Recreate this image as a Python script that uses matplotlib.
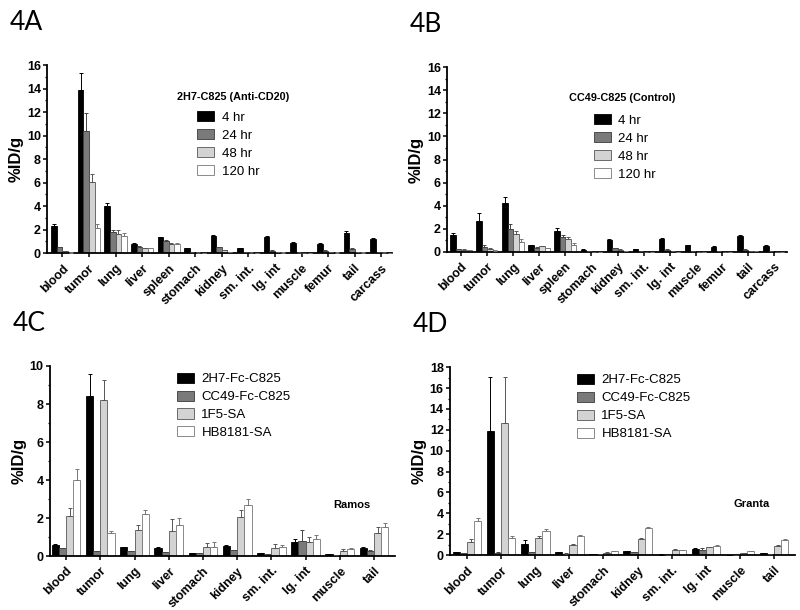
import numpy as np
import matplotlib
matplotlib.use("Agg")
from matplotlib import pyplot as plt
from matplotlib.ticker import MultipleLocator

plt.rcParams['font.family'] = ['Liberation Sans', 'DejaVu Sans']

# ---- data ----
organs_ab = ['blood', 'tumor', 'lung', 'liver', 'spleen', 'stomach', 'kidney',
             'sm. int.', 'lg. int', 'muscle', 'femur', 'tail', 'carcass']
organs_cd = ['blood', 'tumor', 'lung', 'liver', 'stomach', 'kidney',
             'sm. int.', 'lg. int', 'muscle', 'tail']
times = ['4 hr', '24 hr', '48 hr', '120 hr']
agents = ['2H7-Fc-C825', 'CC49-Fc-C825', '1F5-SA', 'HB8181-SA']

# panel A: 2H7-C825, rows = time points
a_mean = [
    [2.3, 13.9, 4.0, 0.8, 1.35, 0.4, 1.45, 0.4, 1.4, 0.9, 0.8, 1.75, 1.2],
    [0.5, 10.4, 1.8, 0.55, 1.0, 0.1, 0.5, 0.1, 0.2, 0.05, 0.2, 0.35, 0.1],
    [0.15, 6.1, 1.6, 0.4, 0.8, 0.05, 0.25, 0.05, 0.1, 0.03, 0.1, 0.1, 0.05],
    [0.05, 2.1, 1.45, 0.4, 0.75, 0.02, 0.1, 0.02, 0.05, 0.02, 0.05, 0.05, 0.02],
]
a_err = [
    [0.2, 1.4, 0.25, 0.1, 0.06, 0.03, 0.08, 0.03, 0.1, 0.03, 0.05, 0.15, 0.05],
    [0.05, 1.5, 0.15, 0.05, 0.1, 0.02, 0.05, 0.02, 0.03, 0.01, 0.03, 0.05, 0.02],
    [0.03, 0.6, 0.4, 0.03, 0.05, 0.01, 0.03, 0.01, 0.02, 0.01, 0.02, 0.02, 0.01],
    [0.02, 0.4, 0.3, 0.03, 0.1, 0.01, 0.02, 0.01, 0.01, 0.01, 0.01, 0.01, 0.01],
]

# panel B: CC49-C825 control
b_mean = [
    [1.5, 2.7, 4.25, 0.6, 1.8, 0.2, 1.05, 0.25, 1.15, 0.6, 0.45, 1.4, 0.55],
    [0.25, 0.45, 2.0, 0.35, 1.25, 0.05, 0.3, 0.05, 0.2, 0.05, 0.05, 0.2, 0.1],
    [0.2, 0.25, 1.55, 0.5, 1.1, 0.02, 0.2, 0.02, 0.05, 0.02, 0.02, 0.1, 0.02],
    [0.15, 0.1, 0.9, 0.3, 0.6, 0.02, 0.1, 0.02, 0.02, 0.02, 0.02, 0.05, 0.02],
]
b_err = [
    [0.1, 0.65, 0.5, 0.04, 0.25, 0.02, 0.05, 0.02, 0.05, 0.03, 0.03, 0.06, 0.04],
    [0.03, 0.15, 0.4, 0.05, 0.2, 0.01, 0.03, 0.01, 0.02, 0.01, 0.01, 0.02, 0.01],
    [0.02, 0.05, 0.3, 0.05, 0.15, 0.01, 0.02, 0.01, 0.01, 0.01, 0.01, 0.01, 0.01],
    [0.02, 0.03, 0.2, 0.03, 0.15, 0.01, 0.01, 0.01, 0.01, 0.01, 0.01, 0.01, 0.01],
]

# panel C: Ramos, rows = agents
c_mean = [
    [0.6, 8.4, 0.45, 0.4, 0.15, 0.55, 0.15, 0.75, 0.1, 0.4],
    [0.4, 0.25, 0.25, 0.2, 0.15, 0.3, 0.1, 0.8, 0.05, 0.25],
    [2.1, 8.2, 1.35, 1.3, 0.45, 2.05, 0.4, 0.75, 0.25, 1.2],
    [4.0, 1.2, 2.2, 1.65, 0.5, 2.7, 0.45, 0.9, 0.35, 1.55],
]
c_err = [
    [0.05, 1.2, 0.03, 0.1, 0.02, 0.04, 0.03, 0.15, 0.02, 0.1],
    [0.03, 0.03, 0.02, 0.03, 0.03, 0.03, 0.02, 0.55, 0.01, 0.05],
    [0.45, 1.05, 0.3, 0.65, 0.25, 0.35, 0.25, 0.25, 0.1, 0.35],
    [0.6, 0.1, 0.2, 0.35, 0.25, 0.3, 0.15, 0.2, 0.05, 0.2],
]

# panel D: Granta
d_mean = [
    [0.3, 11.9, 1.1, 0.25, 0.1, 0.35, 0.05, 0.6, 0.02, 0.2],
    [0.2, 0.2, 0.3, 0.15, 0.1, 0.25, 0.02, 0.5, 0.02, 0.1],
    [1.3, 12.7, 1.65, 1.0, 0.2, 1.5, 0.45, 0.75, 0.2, 0.85],
    [3.3, 1.6, 2.35, 1.8, 0.4, 2.6, 0.45, 0.9, 0.35, 1.45],
]
d_err = [
    [0.02, 5.2, 0.3, 0.03, 0.01, 0.03, 0.01, 0.05, 0.01, 0.03],
    [0.02, 0.05, 0.03, 0.02, 0.01, 0.03, 0.01, 0.15, 0.01, 0.02],
    [0.25, 4.4, 0.15, 0.1, 0.05, 0.15, 0.15, 0.05, 0.03, 0.1],
    [0.25, 0.25, 0.15, 0.1, 0.03, 0.1, 0.03, 0.05, 0.03, 0.05],
]

fills = ['#000000', '#7a7a7a', '#d3d3d3', '#ffffff']
edges = ['#000000', '#3a3a3a', '#555555', '#777777']
errc = ['#000000', '#444444', '#555555', '#777777']

fig = plt.figure(figsize=(8, 6.1), dpi=100)


def draw_panel(rect, cats, means, errs, names, ymax, xlim, label,
               leg_anchor, leg_title=None, note=None):
    ax = fig.add_axes(rect)
    x = np.arange(len(cats))
    w = 0.21
    for k in range(4):
        pos = x + (k - 1.5) * w
        ax.bar(pos, means[k], width=w, color=fills[k], edgecolor=edges[k],
               linewidth=0.6, label=names[k], zorder=2)
        ax.errorbar(pos, means[k], yerr=[np.zeros(len(cats)), errs[k]],
                    fmt='none', ecolor=errc[k], elinewidth=0.7, capsize=1.3,
                    capthick=0.7, zorder=3)
    ax.set_xlim(*xlim)
    ax.set_ylim(0, ymax)
    ax.yaxis.set_major_locator(MultipleLocator(2))
    ax.yaxis.set_minor_locator(MultipleLocator(1))
    ax.set_xticks(x)
    ax.set_xticklabels(cats, rotation=45, ha='right', rotation_mode='anchor',
                       fontsize=9, fontweight='bold')
    for t in ax.get_yticklabels():
        t.set_fontweight('bold')
        t.set_fontsize(9)
    ax.tick_params(axis='both', which='major', length=3, width=1.1, pad=1.5)
    ax.tick_params(axis='x', which='major', pad=3.5)
    ax.tick_params(axis='y', which='minor', length=1.8, width=0.9)
    ax.spines['top'].set_visible(False)
    ax.spines['right'].set_visible(False)
    ax.spines['left'].set_linewidth(1.3)
    ax.spines['bottom'].set_linewidth(1.3)
    ax.set_ylabel('%ID/g', fontsize=12, fontweight='bold', labelpad=2)
    leg = ax.legend(loc='upper left', bbox_to_anchor=leg_anchor, frameon=False,
                    fontsize=9.5, handlelength=1.25, handleheight=0.8,
                    labelspacing=0.4, handletextpad=0.6, borderpad=0,
                    borderaxespad=0)
    for h in leg.legend_handles:
        h.set_linewidth(0.6)
    if leg_title:
        ax.text(leg_title[0], leg_title[1], leg_title[2],
                transform=ax.transAxes, fontsize=7.8, fontweight='bold',
                va='center', ha='center')
    if note:
        ax.text(note[0], note[1], note[2], transform=ax.transAxes,
                fontsize=8, fontweight='bold', ha='left', va='center')
    fig.text(rect[0] - 0.047, rect[1] + rect[3] + 0.07, label,
             fontsize=19, family=['Lato', 'DejaVu Sans'], va='center')
    return ax


draw_panel([0.059, 0.585, 0.431, 0.308], organs_ab, a_mean, a_err, times, 16,
           (-0.57, 12.4), '4A', (0.435, 0.755), (0.54, 0.83, '2H7-C825 (Anti-CD20)'))
draw_panel([0.559, 0.587, 0.425, 0.303], organs_ab, b_mean, b_err, times, 16,
           (-0.53, 12.5), '4B', (0.432, 0.745), (0.515, 0.832, 'CC49-C825 (Control)'))
draw_panel([0.0625, 0.0885, 0.4315, 0.3115], organs_cd, c_mean, c_err, agents, 10,
           (-0.47, 9.62), '4C', (0.368, 0.965), None, (0.82, 0.27, 'Ramos'))
draw_panel([0.5625, 0.090, 0.4315, 0.308], organs_cd, d_mean, d_err, agents, 18,
           (-0.5, 9.62), '4D', (0.368, 0.965), None, (0.82, 0.27, 'Granta'))

fig.savefig('out.png', dpi=100)
